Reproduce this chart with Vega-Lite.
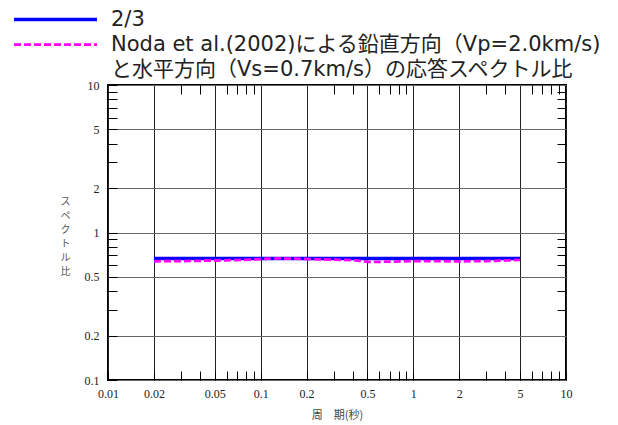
{
  "$schema": "https://vega.github.io/schema/vega-lite/v6.json",
  "width": 458,
  "height": 295,
  "autosize": {"type": "none"},
  "padding": {"left": 108, "top": 85, "right": 52, "bottom": 45},
  "background": "white",
  "config": {
    "view": {"stroke": "black", "strokeWidth": 2},
    "axis": {
      "domain": false,
      "labelFont": "Liberation Serif",
      "labelFontSize": 12,
      "labelColor": "#222",
      "tickColor": "black",
      "tickWidth": 1,
      "tickSize": -9
    }
  },
  "data": {
    "values": [
      {"series": "2/3", "period": 0.02, "ratio": 0.6667},
      {"series": "2/3", "period": 5, "ratio": 0.6667},
      {"series": "Noda et al.(2002)による鉛直方向（Vp=2.0km/s)", "period": 0.02, "ratio": 0.638},
      {"series": "Noda et al.(2002)による鉛直方向（Vp=2.0km/s)", "period": 0.03, "ratio": 0.64},
      {"series": "Noda et al.(2002)による鉛直方向（Vp=2.0km/s)", "period": 0.05, "ratio": 0.645},
      {"series": "Noda et al.(2002)による鉛直方向（Vp=2.0km/s)", "period": 0.07, "ratio": 0.65},
      {"series": "Noda et al.(2002)による鉛直方向（Vp=2.0km/s)", "period": 0.1, "ratio": 0.66},
      {"series": "Noda et al.(2002)による鉛直方向（Vp=2.0km/s)", "period": 0.13, "ratio": 0.667},
      {"series": "Noda et al.(2002)による鉛直方向（Vp=2.0km/s)", "period": 0.17, "ratio": 0.665},
      {"series": "Noda et al.(2002)による鉛直方向（Vp=2.0km/s)", "period": 0.2, "ratio": 0.66},
      {"series": "Noda et al.(2002)による鉛直方向（Vp=2.0km/s)", "period": 0.3, "ratio": 0.655},
      {"series": "Noda et al.(2002)による鉛直方向（Vp=2.0km/s)", "period": 0.42, "ratio": 0.648},
      {"series": "Noda et al.(2002)による鉛直方向（Vp=2.0km/s)", "period": 0.5, "ratio": 0.632},
      {"series": "Noda et al.(2002)による鉛直方向（Vp=2.0km/s)", "period": 0.7, "ratio": 0.634},
      {"series": "Noda et al.(2002)による鉛直方向（Vp=2.0km/s)", "period": 1, "ratio": 0.64},
      {"series": "Noda et al.(2002)による鉛直方向（Vp=2.0km/s)", "period": 2, "ratio": 0.638},
      {"series": "Noda et al.(2002)による鉛直方向（Vp=2.0km/s)", "period": 3, "ratio": 0.64},
      {"series": "Noda et al.(2002)による鉛直方向（Vp=2.0km/s)", "period": 4, "ratio": 0.646},
      {"series": "Noda et al.(2002)による鉛直方向（Vp=2.0km/s)", "period": 5, "ratio": 0.652}
    ]
  },
  "layer": [
    {
      "mark": {"type": "line", "interpolate": "linear"},
      "encoding": {
        "x": {
          "field": "period", "type": "quantitative",
          "scale": {"type": "log", "domain": [0.01, 10]},
          "axis": {
            "orient": "bottom",
            "values": [0.01,0.02,0.03,0.04,0.05,0.06,0.07,0.08,0.09,0.1,0.2,0.3,0.4,0.5,0.6,0.7,0.8,0.9,1,2,3,4,5,6,7,8,9,10],
            "labelExpr": "indexof([0.01,0.02,0.05,0.1,0.2,0.5,1,2,5,10], datum.value) >= 0 ? toString(datum.value) : ''",
            "grid": true,
            "gridColor": {"condition": {"test": "indexof([0.01,0.02,0.05,0.1,0.2,0.5,1,2,5,10], datum.value) >= 0", "value": "#222"}, "value": "transparent"},
            "gridWidth": 1,
            "labelPadding": 17,
            "labelFlush": false,
            "labelOverlap": false,
            "title": "周　期(秒)",
            "titleFont": "Noto Sans CJK JP",
            "titleFontSize": 11,
            "titleFontWeight": "normal",
            "titleColor": "#444",
            "titlePadding": 10
          }
        },
        "y": {
          "field": "ratio", "type": "quantitative",
          "scale": {"type": "log", "domain": [0.1, 10]},
          "axis": {
            "orient": "left",
            "values": [0.1,0.2,0.3,0.4,0.5,0.6,0.7,0.8,0.9,1,2,3,4,5,6,7,8,9,10],
            "labelExpr": "indexof([0.1,0.2,0.5,1,2,5,10], datum.value) >= 0 ? toString(datum.value) : ''",
            "grid": true,
            "gridColor": {"condition": {"test": "indexof([0.1,0.2,0.5,1,2,5,10], datum.value) >= 0", "value": "#666"}, "value": "transparent"},
            "gridWidth": 1.2,
            "labelPadding": 18,
            "labelFlush": false,
            "labelOverlap": false,
            "title": ["ス", "ペ", "ク", "ト", "ル", "比"],
            "titleAngle": 0,
            "titleFont": "Noto Sans CJK JP",
            "titleFontSize": 10,
            "titleFontWeight": "normal",
            "titleColor": "#555",
            "titleLineHeight": 14,
            "titleAlign": "center",
            "titleBaseline": "top",
            "titleX": -43,
            "titleY": 111
          }
        },
        "color": {
          "field": "series", "type": "nominal",
          "scale": {
            "domain": ["2/3", "Noda et al.(2002)による鉛直方向（Vp=2.0km/s)", "と水平方向（Vs=0.7km/s）の応答スペクトル比"],
            "range": ["#0000FF", "#FF00FF", "rgba(0,0,0,0)"]
          },
          "legend": {
            "orient": "none",
            "legendX": -96,
            "legendY": -78,
            "title": null,
            "padding": 0,
            "symbolType": "stroke",
            "symbolSize": 6889,
            "clipHeight": 25,
            "rowPadding": 0,
            "labelFont": "DejaVu Sans, Noto Sans CJK JP",
            "labelFontSize": 21,
            "labelColor": "#222",
            "labelOffset": 12,
            "labelLimit": 0
          }
        },
        "strokeDash": {
          "field": "series", "type": "nominal",
          "scale": {
            "domain": ["2/3", "Noda et al.(2002)による鉛直方向（Vp=2.0km/s)", "と水平方向（Vs=0.7km/s）の応答スペクトル比"],
            "range": [[1, 0], [7, 3], [1, 0]]
          }
        },
        "strokeWidth": {
          "field": "series", "type": "nominal",
          "scale": {
            "domain": ["2/3", "Noda et al.(2002)による鉛直方向（Vp=2.0km/s)", "と水平方向（Vs=0.7km/s）の応答スペクトル比"],
            "range": [3.5, 2, 0]
          }
        }
      }
    },
    {
      "mark": {"type": "point", "opacity": 0},
      "encoding": {
        "x": {
          "field": "period", "type": "quantitative",
          "scale": {"type": "log", "domain": [0.01, 10]},
          "axis": {
            "orient": "top",
            "values": [0.03,0.04,0.06,0.07,0.08,0.09,0.3,0.4,0.6,0.7,0.8,0.9,3,4,6,7,8,9],
            "labels": false, "grid": false, "title": null
          }
        },
        "y": {
          "field": "ratio", "type": "quantitative",
          "scale": {"type": "log", "domain": [0.1, 10]},
          "axis": {
            "orient": "right",
            "values": [0.3,0.4,0.6,0.7,0.8,0.9,3,4,6,7,8,9],
            "labels": false, "grid": false, "title": null
          }
        }
      }
    }
  ],
  "resolve": {"axis": {"x": "independent", "y": "independent"}}
}
